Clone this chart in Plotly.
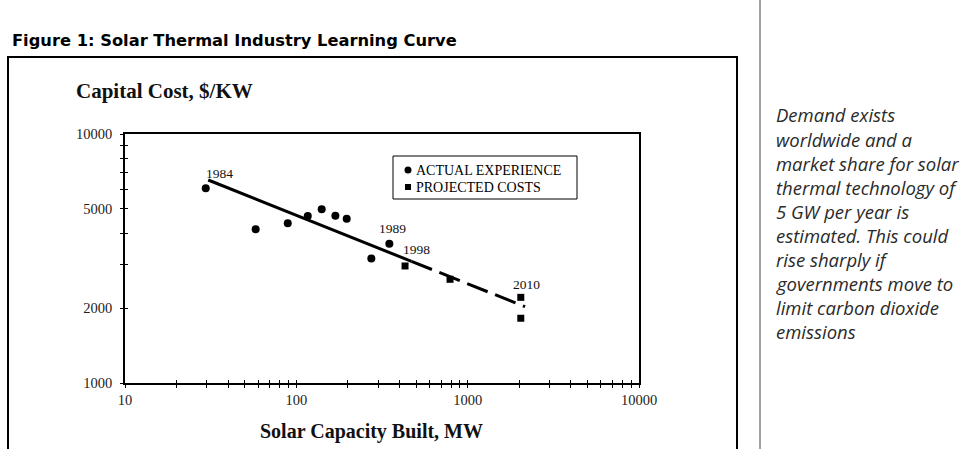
import math
import plotly.graph_objects as go

# ---- data ----
actual_mw = [29.6, 57.9, 89.1, 116.6, 140.6, 169, 196.8, 274, 349]
actual_cost = [6055, 4141, 4378, 4685, 4982, 4697, 4569, 3159, 3626]
proj_mw = [431, 789, 2042, 2042]
proj_cost = [2951, 2609, 2208, 1820]
fit_solid_mw = [30.6, 470]
fit_solid_cost = [6535, 3080]
fit_dash_mw = [470, 2163]
fit_dash_cost = [3080, 2025]

year_labels = ["1984", "1989", "1998", "2010"]
year_mw = [29.6, 349, 431, 2042]
year_cost = [6055, 3626, 2951, 2208]
year_shift = [(14, 15), (3, 15), (11, 16), (6, 13)]

legend_names = ["ACTUAL EXPERIENCE", "PROJECTED COSTS"]

x_decades = [10, 100, 1000]
x_mult = [1, 2, 3, 4, 5, 6, 7, 8, 9]
x_tickvals = [d * m for d in x_decades for m in x_mult] + [10000]
x_ticktext = [str(v) if v in (10, 100, 1000, 10000) else "" for v in x_tickvals]
y_tickvals = [1000, 2000, 3000, 4000, 5000, 6000, 7000, 8000, 9000, 10000]
y_ticktext = [str(v) if v in (1000, 2000, 5000, 10000) else "" for v in y_tickvals]

side_text = ["Demand exists", "worldwide and a", "market share for solar",
             "thermal technology of", "5 GW per year is", "estimated. This could",
             "rise sharply if", "governments move to", "limit carbon dioxide",
             "emissions"]

W, H = 962, 449
L, R, T, B = 125, 639, 134, 383


def px(xp):
    return (xp - L) / (R - L)


def py(yp):
    return (B - yp) / (B - T)


SERIF = "Liberation Serif"

fig = go.Figure()
fig.add_trace(go.Scatter(x=fit_solid_mw, y=fit_solid_cost, mode="lines",
                         line=dict(color="black", width=3), showlegend=False, hoverinfo="skip"))
fig.add_trace(go.Scatter(x=fit_dash_mw, y=fit_dash_cost, mode="lines",
                         line=dict(color="black", width=3, dash="22px,8px"),
                         showlegend=False, hoverinfo="skip"))
fig.add_trace(go.Scatter(x=actual_mw, y=actual_cost, mode="markers", name=legend_names[0],
                         showlegend=False,
                         marker=dict(symbol="circle", size=8, color="black")))
fig.add_trace(go.Scatter(x=proj_mw, y=proj_cost, mode="markers", name=legend_names[1],
                         showlegend=False,
                         marker=dict(symbol="square", size=7, color="black")))
# overlay axes carry the inner half of the crossing tick marks
fig.add_trace(go.Scatter(x=[], y=[], xaxis="x2", yaxis="y2", showlegend=False, hoverinfo="skip"))

tickfont = dict(family=SERIF, size=14.5, color="#222")
common_x = dict(type="log", range=[1, 4], tickvals=x_tickvals, showgrid=False, zeroline=False,
                tickcolor="black", tickwidth=1, ticklen=3)
common_y = dict(type="log", range=[3, 4], tickvals=y_tickvals, showgrid=False, zeroline=False,
                tickcolor="black", tickwidth=1, ticklen=3)

annotations = []
for lab, xm, yc, (dx, dy) in zip(year_labels, year_mw, year_cost, year_shift):
    annotations.append(dict(x=math.log10(xm), y=math.log10(yc), xref="x", yref="y", text=lab,
                            showarrow=False, xshift=dx, yshift=dy,
                            font=dict(family=SERIF, size=13.5, color="#111")))
annotations.append(dict(x=px(74), y=py(91), xref="paper", yref="paper", xanchor="left",
                        yanchor="middle", text="<b>Capital Cost, $/KW</b>", showarrow=False,
                        font=dict(family=SERIF, size=21, color="#111")))
annotations.append(dict(x=px(371), y=py(431), xref="paper", yref="paper", xanchor="center",
                        yanchor="middle", text="<b>Solar Capacity Built, MW</b>", showarrow=False,
                        font=dict(family=SERIF, size=20, color="#111")))
# legend (box, markers, labels)
leg_rows = [170, 187]
for name, yr in zip(legend_names, leg_rows):
    annotations.append(dict(x=px(414), y=py(yr), xref="paper", yref="paper", xanchor="left",
                            yanchor="middle", text=name, showarrow=False,
                            font=dict(family=SERIF, size=14, color="black")))
for i, line in enumerate(side_text):
    annotations.append(dict(x=px(774), y=py(115 + 24 * i), xref="paper", yref="paper",
                            xanchor="left", yanchor="middle", text=line, showarrow=False,
                            font=dict(family="Open Sans", size=18.5, color="#2a2a2a",
                                      style="italic", weight=400)))

shapes = [
    dict(type="rect", xref="paper", yref="paper", x0=px(8), x1=px(737), y0=py(470), y1=py(57),
         line=dict(color="black", width=2)),
    dict(type="line", xref="paper", yref="paper", x0=px(760), x1=px(760), y0=py(0), y1=py(449),
         line=dict(color="#444", width=1)),
    dict(type="rect", xref="paper", yref="paper", x0=px(393), x1=px(577), y0=py(199), y1=py(156),
         line=dict(color="black", width=1), fillcolor="white", layer="below"),
    dict(type="circle", xref="paper", yref="paper", x0=px(404.5), x1=px(411.5),
         y0=py(leg_rows[0] + 3.5), y1=py(leg_rows[0] - 3.5),
         line=dict(color="black", width=0), fillcolor="black"),
    dict(type="rect", xref="paper", yref="paper", x0=px(405), x1=px(411),
         y0=py(leg_rows[1] + 3), y1=py(leg_rows[1] - 3),
         line=dict(color="black", width=0), fillcolor="black"),
]

fig.update_layout(
    width=W, height=H,
    margin=dict(l=L, r=W - R, t=T, b=H - B, pad=0),
    paper_bgcolor="white", plot_bgcolor="white",
    title=dict(text="<b>Figure 1: Solar Thermal Industry Learning Curve</b>", xref="container",
               yref="container", x=12 / W, xanchor="left", y=1 - 40 / H, yanchor="middle",
               font=dict(family="DejaVu Sans", size=16.3, color="black")),
    xaxis=dict(common_x, ticktext=x_ticktext, ticks="outside", showline=True, linecolor="black",
               linewidth=1.5, mirror=True, tickfont=tickfont),
    yaxis=dict(common_y, ticktext=y_ticktext, ticks="outside", showline=True, linecolor="black",
               linewidth=1.5, mirror=True, tickfont=tickfont, ticklabelstandoff=5),
    xaxis2=dict(common_x, overlaying="x", anchor="y", side="bottom", ticks="inside",
                showticklabels=False, showline=False),
    yaxis2=dict(common_y, overlaying="y", anchor="x", side="left", ticks="inside",
                showticklabels=False, showline=False),
    annotations=annotations,
    shapes=shapes,
    showlegend=False,
)

fig.write_html("out.html")
